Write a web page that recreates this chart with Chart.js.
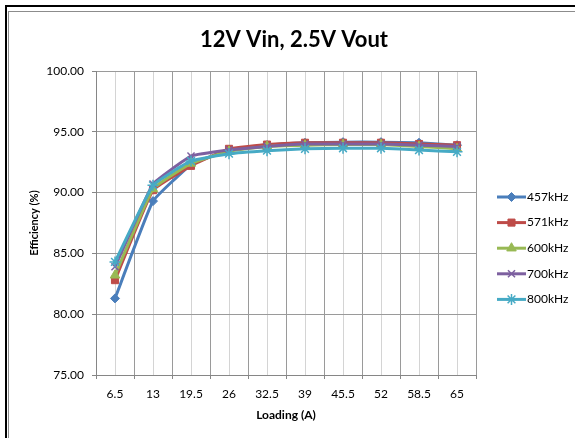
<!DOCTYPE html>
<html>
<head>
<meta charset="utf-8">
<script src="https://cdn.jsdelivr.net/npm/chart.js@4/dist/chart.umd.min.js"></script>
<style>
  html, body { margin: 0; padding: 0; background: #fff; overflow: hidden; }
  #wrap { position: relative; width: 575px; height: 438px; }
  #chart { position: absolute; left: 0; top: 0; }
  .frame-outer { position: absolute; left: 5px; top: 5px; width: 700px; height: 600px;
    border-left: 2px solid #000; border-top: 2px solid #000; }
  .frame-inner { position: absolute; left: 8px; top: 11px; width: 700px; height: 600px;
    border-left: 1px solid #8c8c8c; border-top: 1px solid #8c8c8c; }
</style>
</head>
<body>
<div id="wrap">
  <canvas id="chart" width="575" height="438"></canvas>
  <div class="frame-outer"></div>
  <div class="frame-inner"></div>
</div>
<script>
const loading = [6.5, 13, 19.5, 26, 32.5, 39, 45.5, 52, 58.5, 65];

const eff457 = [81.3, 89.3, 92.3, 93.5, 93.9, 94.1, 94.15, 94.15, 94.1, 93.9];
const eff571 = [82.8, 90.2, 92.2, 93.6, 93.95, 94.1, 94.1, 94.1, 94.0, 93.9];
const eff600 = [83.2, 90.3, 92.4, 93.4, 93.8, 93.9, 93.95, 93.95, 93.8, 93.6];
const eff700 = [83.9, 90.7, 93.0, 93.5, 93.8, 94.0, 94.0, 94.0, 93.9, 93.8];
const eff800 = [84.3, 90.6, 92.6, 93.2, 93.45, 93.6, 93.65, 93.65, 93.5, 93.35];

const seriesNames = ['457kHz', '571kHz', '600kHz', '700kHz', '800kHz'];
const seriesValues = [eff457, eff571, eff600, eff700, eff800];
const COLORS = ['#4a7ebb', '#be4b48', '#98b954', '#7d60a0', '#46aac5'];
const STYLES = ['rectRot', 'rect', 'triangle', 'crossRot', 'star'];
const RADII = [4.5, 5, 5.5, 5, 5.5];

const FONT = 'Lato, "Open Sans", sans-serif';
const TITLE = '12V Vin, 2.5V Vout';

const datasets = seriesNames.map((name, i) => ({
  label: name,
  data: loading.map((x, j) => ({ x: x, y: seriesValues[i][j] })),
  borderColor: COLORS[i],
  backgroundColor: COLORS[i],
  borderWidth: 3,
  pointStyle: STYLES[i],
  pointRadius: RADII[i],
  pointBorderWidth: (i >= 3) ? 1.5 : 1,
  pointBackgroundColor: COLORS[i],
  pointBorderColor: COLORS[i],
  tension: 0.1,
  order: 5 - i
}));

// title centred on the whole frame, not on the plot
const frameTitle = {
  id: 'frameTitle',
  afterDraw(chart) {
    const ctx = chart.ctx;
    ctx.save();
    ctx.fillStyle = '#000';
    ctx.font = 'bold 22px ' + FONT;
    ctx.textAlign = 'center';
    ctx.textBaseline = 'middle';
    ctx.fillText(TITLE, 294, 40);
    ctx.restore();
  }
};

// line + marker legend on the right, like the spreadsheet one
const sideLegend = {
  id: 'sideLegend',
  afterDraw(chart) {
    const ctx = chart.ctx;
    const top = 197, gap = 25.6;
    chart.data.datasets.forEach((ds, i) => {
      const y = top + i * gap;
      ctx.save();
      ctx.strokeStyle = ds.borderColor;
      ctx.lineWidth = 3;
      ctx.beginPath();
      ctx.moveTo(497, y);
      ctx.lineTo(526, y);
      ctx.stroke();
      ctx.fillStyle = ds.borderColor;
      ctx.lineWidth = ds.pointBorderWidth;
      Chart.helpers.drawPoint(ctx, {
        pointStyle: ds.pointStyle,
        radius: ds.pointRadius,
        borderWidth: ds.pointBorderWidth,
        rotation: 0
      }, 511.5, y);
      ctx.fillStyle = '#000';
      ctx.font = '12px ' + FONT;
      ctx.textBaseline = 'middle';
      ctx.textAlign = 'left';
      ctx.fillText(ds.label, 527, y);
      ctx.restore();
    });
  }
};

const ctx = document.getElementById('chart').getContext('2d');
const chart = new Chart(ctx, {
  type: 'line',
  data: { datasets: datasets },
  plugins: [frameTitle, sideLegend],
  options: {
    responsive: false,
    animation: false,
    layout: { padding: { top: 71, left: 12, right: 99, bottom: 0 } },
    plugins: {
      legend: { display: false },
      tooltip: { enabled: false },
      title: { display: false }
    },
    scales: {
      x: {
        type: 'linear',
        min: 3.25,
        max: 68.25,
        afterFit(scale) { scale.height = 63; },
        ticks: {
          stepSize: 3.25,
          maxTicksLimit: 40,
          autoSkip: false,
          maxRotation: 0,
          padding: 8,
          color: '#000',
          font: { family: FONT, size: 12 },
          callback: (value, index) => (index % 2 === 1 ? String(value) : '')
        },
        grid: {
          color: c => (c.index % 2 === 0 ? '#9a9a9a' : '#d4d4d4'),
          tickColor: c => (c.index % 2 === 0 ? '#868686' : 'rgba(0,0,0,0)'),
          tickLength: 4,
          lineWidth: 1
        },
        border: { color: '#868686', width: 1 },
        title: {
          display: true,
          text: 'Loading (A)',
          color: '#000',
          font: { family: FONT, size: 12, weight: 'bold' },
          padding: { top: 16, bottom: 16 }
        }
      },
      y: {
        min: 75,
        max: 100,
        afterFit(scale) { scale.width = 84; },
        ticks: {
          stepSize: 5,
          padding: 8,
          color: '#000',
          font: { family: FONT, size: 12 },
          callback: value => Number(value).toFixed(2)
        },
        grid: {
          color: '#9a9a9a',
          tickColor: '#868686',
          tickLength: 4
        },
        border: { color: '#868686', width: 1 },
        title: {
          display: true,
          text: 'Efficiency (%)',
          color: '#000',
          font: { family: FONT, size: 11, weight: 'bold' },
          padding: { top: 16, bottom: 16 }
        }
      }
    }
  }
});
</script>
</body>
</html>
